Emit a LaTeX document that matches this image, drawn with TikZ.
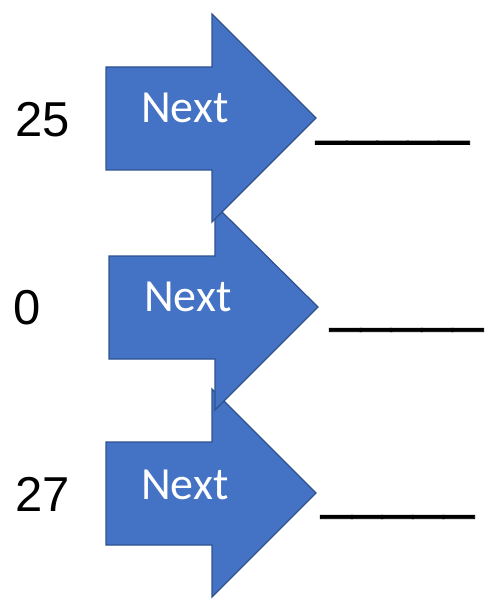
\documentclass[tikz,border=0pt]{standalone}
\usepackage{fontspec}
\setmainfont{Liberation Sans}
\newfontfamily\nextfont{Carlito}
\newfontfamily\ulfont[FakeBold=1.5]{Liberation Sans}
\definecolor{arrowblue}{HTML}{4472C4}
\definecolor{arrowedge}{HTML}{2F528F}
\begin{document}
\begin{tikzpicture}[x=1pt,y=-1pt,
  blockarrow/.style={fill=arrowblue,draw=arrowedge,line width=1.2pt,line join=miter},
  nexttext/.style={anchor=base west,inner sep=0pt,text=white,font=\nextfont\fontsize{46}{46}\selectfont},
  numtext/.style={anchor=base west,inner sep=0pt,font=\fontsize{49}{49}\selectfont},
  blank/.style={anchor=base west,inner sep=0pt,font=\ulfont\fontsize{55}{55}\selectfont}]
\useasboundingbox (0,0) rectangle (485,601);
% arrows, bottom one first so upper ones lie on top
\draw[blockarrow] (106,442) -- (212,442) -- (212,389) -- (316,493) -- (212,597) -- (212,545) -- (106,545) -- cycle;
\draw[blockarrow] (109,256) -- (215,256) -- (215,205) -- (318,307) -- (215,410) -- (215,359) -- (109,359) -- cycle;
\draw[blockarrow] (106,67) -- (212,67) -- (212,14) -- (316,118) -- (212,222) -- (212,170) -- (106,170) -- cycle;
% labels inside arrows
\node[nexttext] (next1) at (141,123) {Next};
\node[nexttext] (next2) at (144,311) {Next};
\node[nexttext] (next3) at (141,499) {Next};
% numbers
\node[numtext] (num1) at (15,137) {25};
\node[numtext] (num2) at (13,324) {0};
\node[numtext] (num3) at (15,511) {27};
% blanks
\node[blank] (blank1) at (316,133.6) {\_\_\_\_\_};
\node[blank] (blank2) at (330,320.8) {\_\_\_\_\_};
\node[blank] (blank3) at (321,507.8) {\_\_\_\_\_};
\end{tikzpicture}
\end{document}
